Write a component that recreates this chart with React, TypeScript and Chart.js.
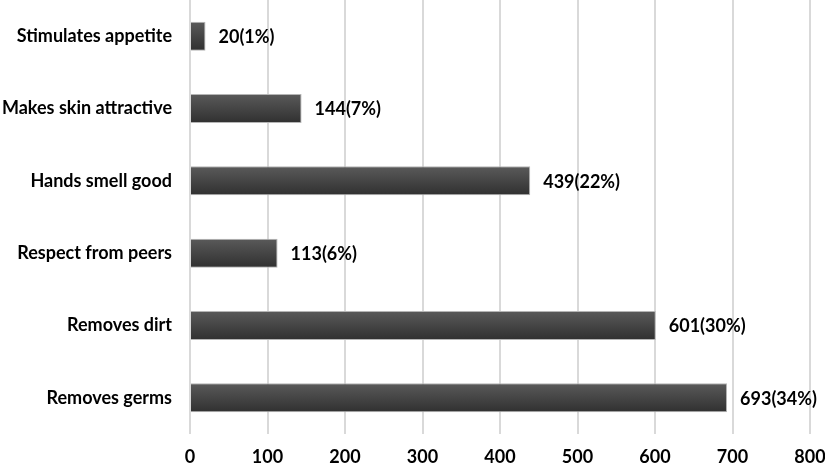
import React, { useEffect, useRef } from "react";
import { Chart, registerables } from "chart.js";

Chart.register(...registerables);

const categories = [
  "Stimulates appetite",
  "Makes skin attractive",
  "Hands smell good",
  "Respect from peers",
  "Removes dirt",
  "Removes germs",
];
const counts = [20, 144, 439, 113, 601, 693];
const percents = [1, 7, 22, 6, 30, 34];
const xTicks = [0, 100, 200, 300, 400, 500, 600, 700, 800];

const FONT = "Lato, 'Open Sans', sans-serif";
const FS = 18;

const gradientBars = {
  id: "gradientBars",
  beforeDatasetsDraw(chart: any) {
    const ctx = chart.ctx;
    const meta = chart.getDatasetMeta(0);
    meta.data.forEach((el: any) => {
      const h = el.height;
      const top = el.y - h / 2;
      const g = ctx.createLinearGradient(0, top, 0, top + h);
      g.addColorStop(0, "#5a5a5a");
      g.addColorStop(1, "#303030");
      el.options = Object.assign({}, el.options, { backgroundColor: g });
    });
  },
};

const valueLabels = {
  id: "valueLabels",
  afterDatasetsDraw(chart: any) {
    const ctx = chart.ctx;
    const meta = chart.getDatasetMeta(0);
    ctx.save();
    ctx.font = `bold ${FS}px ${FONT}`;
    ctx.fillStyle = "#000";
    ctx.textAlign = "left";
    ctx.textBaseline = "middle";
    meta.data.forEach((el: any, i: number) => {
      ctx.fillText(`${counts[i]}(${percents[i]}%)`, el.x + 13, el.y + 1);
    });
    ctx.restore();
  },
};

export default function App() {
  const ref = useRef<HTMLCanvasElement>(null);
  useEffect(() => {
    document.body.style.margin = "0";
    const chart = new Chart(ref.current!, {
      type: "bar",
      data: {
        labels: categories,
        datasets: [
          {
            data: counts,
            backgroundColor: "#444",
            borderColor: "#b5b5b5",
            borderWidth: 1,
            barPercentage: 0.8,
            categoryPercentage: 0.5,
          },
        ],
      },
      options: {
        indexAxis: "y",
        animation: false,
        responsive: false,
        maintainAspectRatio: false,
        layout: { padding: { top: 0, right: 15, bottom: 0, left: 0 } },
        plugins: {
          legend: { display: false },
          tooltip: { enabled: false },
        },
        scales: {
          x: {
            min: 0,
            max: 800,
            afterBuildTicks(scale: any) {
              scale.ticks = xTicks.map((v) => ({ value: v }));
            },
            grid: {
              color: "#d9d9d9",
              lineWidth: 2,
              drawTicks: false,
            },
            border: { display: false },
            ticks: {
              color: "#000",
              font: { family: FONT, size: FS, weight: "bold" },
              padding: 12,
            },
            afterFit(scale: any) {
              scale.height = 32;
              scale.paddingLeft = 0;
              scale.paddingRight = 0;
            },
          },
          y: {
            grid: { display: false, drawTicks: false },
            border: { display: false },
            ticks: {
              color: "#000",
              font: { family: FONT, size: FS, weight: "bold" },
              padding: 18,
            },
            afterFit(scale: any) {
              scale.width = 190;
              scale.paddingTop = 0;
              scale.paddingBottom = 0;
            },
          },
        },
      },
      plugins: [gradientBars, valueLabels],
    });
    return () => chart.destroy();
  }, []);
  return (
    <div style={{ width: 825, height: 466 }}>
      <canvas ref={ref} width={825} height={466} style={{ display: "block" }} />
    </div>
  );
}
